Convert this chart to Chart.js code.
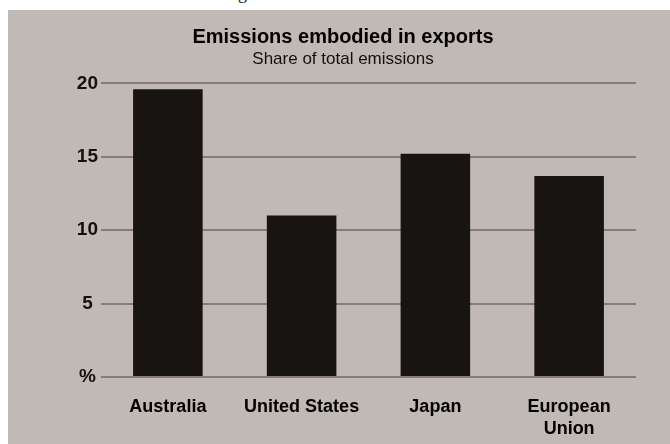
<!DOCTYPE html>
<html>
<head>
<meta charset="utf-8">
<script src="https://cdn.jsdelivr.net/npm/chart.js@4"></script>
<style>
  html, body { margin: 0; padding: 0; background: #fff; width: 670px; height: 444px; overflow: hidden; position: relative; }
  #frag { position: absolute; left: 238px; top: -17px; font: 18px "Liberation Serif", serif; color: #111; }
  #panel { position: absolute; left: 8px; top: 10px; width: 662px; height: 434px; background: #c1b9b4; }
</style>
</head>
<body>
<span id="frag">g</span>
<div id="panel"><canvas id="chart"></canvas></div>
<script>
const categories = ["Australia", "United States", "Japan", ["European", "Union"]];
const shareOfEmissions = [19.6, 11.0, 15.2, 13.7];
const yTicks = [0, 5, 10, 15, 20];

const font = "'Liberation Sans', Arial, sans-serif";

new Chart(document.getElementById("chart"), {
  type: "bar",
  data: {
    labels: categories,
    datasets: [{
      data: shareOfEmissions,
      backgroundColor: "#181412",
      barPercentage: 0.52,
      categoryPercentage: 1
    }]
  },
  options: {
    responsive: true,
    maintainAspectRatio: false,
    animation: false,
    // left/right padding also shifts the title centre to where it sits in the original
    layout: { padding: { left: 42, right: 34, top: 0, bottom: 0 } },
    plugins: {
      legend: { display: false },
      tooltip: { enabled: false },
      title: {
        display: true,
        text: "Emissions embodied in exports",
        color: "#000",
        font: { family: font, size: 20, weight: "bold", lineHeight: 1.2 },
        padding: { top: 15, bottom: 0 }
      },
      subtitle: {
        display: true,
        text: "Share of total emissions",
        color: "#111",
        font: { family: font, size: 17, lineHeight: 1.2 },
        padding: { top: 0, bottom: 14 }
      }
    },
    scales: {
      x: {
        afterFit: (scale) => { scale.height = 67; },
        grid: { display: false, drawTicks: false },
        border: { display: false },
        ticks: {
          color: "#000",
          padding: 20,
          font: { family: font, size: 18, weight: "bold", lineHeight: 1.17 }
        }
      },
      y: {
        min: 0,
        max: 20,
        afterBuildTicks: (scale) => { scale.ticks = yTicks.map(v => ({ value: v })); },
        afterFit: (scale) => { scale.width = 51; },
        grid: { color: "#877c78", lineWidth: 2, drawTicks: false },
        border: { display: false },
        ticks: {
          color: "#111",
          padding: 3,
          crossAlign: "center",
          font: { family: font, size: 19, weight: "bold" },
          callback: (v) => v === 0 ? "%" : v
        }
      }
    }
  }
});
</script>
</body>
</html>
